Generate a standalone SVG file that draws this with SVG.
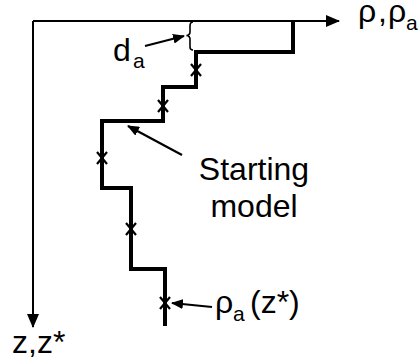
<svg xmlns="http://www.w3.org/2000/svg" width="419" height="362" viewBox="0 0 419 362">
<style>
.axis{fill:none;stroke:#000;stroke-width:2}
.stair{fill:none;stroke:#000;stroke-width:4;stroke-linejoin:miter;stroke-linecap:butt}
.thin{fill:none;stroke:#000;stroke-width:1.6}
.cross{fill:none;stroke:#000;stroke-width:2.2}
.ptr{fill:none;stroke:#000;stroke-width:2.2}
.lbl{font-family:"Liberation Sans",Arial,sans-serif;font-size:32px;fill:#000}
.sub{font-size:21px}
</style>
<defs>
<marker id="ah" markerUnits="userSpaceOnUse" markerWidth="14" markerHeight="12" viewBox="0 0 14 12" refX="13" refY="6" orient="auto">
<path d="M0,0 L14,6 L0,12 Z" fill="#000"/>
</marker>
<marker id="ph" markerUnits="userSpaceOnUse" markerWidth="12" markerHeight="10" viewBox="0 0 12 10" refX="11" refY="5" orient="auto">
<path d="M0,0 L12,5 L0,10 Z" fill="#000"/>
</marker>
</defs>
<rect width="419" height="362" fill="#fff"/>
<g id="axes">
<path class="axis" d="M33,21 H339" marker-end="url(#ah)"/>
<path class="axis" d="M33,21 V327" marker-end="url(#ah)"/>
</g>
<g id="profile">
<path class="stair" d="M293,21 V52 H196 V87 H163 V121 H102 V188 H131 V269 H165 V326"/>
<path class="thin" d="M193,22 Q190,22 190,26 V32 Q190,35 186.5,35.5 Q190,36 190,39 V47 Q190,50 193,50"/>
</g>
<g id="markers">
<path class="cross" d="M191,64 L201,76 M201,64 L191,76"/>
<path class="cross" d="M158,100 L168,112 M168,100 L158,112"/>
<path class="cross" d="M97,152 L107,164 M107,152 L97,164"/>
<path class="cross" d="M126,223 L136,235 M136,223 L126,235"/>
<path class="cross" d="M160,297 L170,309 M170,297 L160,309"/>
</g>
<g id="connectors">
<path class="ptr" d="M145,46 L184,36" marker-end="url(#ph)"/>
<path class="ptr" d="M182,155 L128,126" marker-end="url(#ph)"/>
<path class="ptr" d="M212,307 L172,303" marker-end="url(#ph)"/>
</g>
<g id="labels">
<text class="lbl" y="22" font-size="30"><tspan x="358">ρ</tspan><tspan x="378">,</tspan><tspan x="388">ρ</tspan><tspan class="sub" x="406" y="30" font-size="20">a</tspan></text>
<text class="lbl" y="61" font-size="33"><tspan x="113">d</tspan><tspan class="sub" x="133" y="68">a</tspan></text>
<text class="lbl" x="254" y="180" text-anchor="middle" font-size="33">Starting</text>
<text class="lbl" x="254" y="217" text-anchor="middle" font-size="33">model</text>
<text class="lbl" y="313"><tspan x="215">ρ</tspan><tspan class="sub" x="233" y="321" font-size="22">a</tspan><tspan x="250" y="313">(z*)</tspan></text>
<text class="lbl" x="12" y="353" font-size="34">z,z*</text>
</g>
</svg>
